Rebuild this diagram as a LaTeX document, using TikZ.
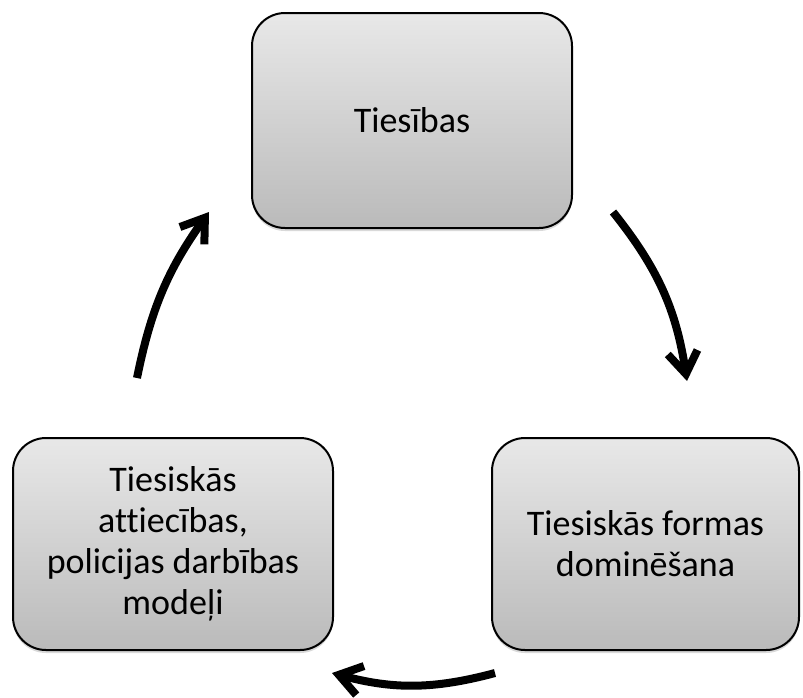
\documentclass[tikz,border=0pt]{standalone}
\usepackage{fontspec}
\setmainfont[Ligatures=NoCommon]{Carlito}
\usepackage{tikz}
\usetikzlibrary{arrows.meta,shapes,positioning,shadows}

\tikzset{
  stagebox/.style={draw=black, line width=1pt, rounded corners=16.5pt,
    top color=black!9, bottom color=black!27,
    drop shadow={shadow xshift=0pt, shadow yshift=-1.5pt, opacity=0.3},
    align=center, font=\fontsize{18}{20.5}\selectfont, inner sep=0pt},
  cyc/.style={line width=4pt, -{Straight Barb[length=11pt,width=15pt]}}
}

\begin{document}
\begin{tikzpicture}[x=0.5pt,y=-0.5pt]
                % page frame, size as the picture
                \useasboundingbox (0,0) rectangle (803,697);

                % the three boxes
                \node[stagebox, minimum width=160pt, minimum height=107.5pt] (tiesibas) at (412,120.5) {Tiesības};
                \node[stagebox, minimum width=153.5pt, minimum height=106pt] (domin) at (645.5,544) {Tiesiskās formas\\dominēšana};
                \node[stagebox, minimum width=160pt, minimum height=106pt] (attiec) at (173,544) {Tiesiskās\\attiecības,\\policijas darbības\\modeļi};

                % arrow ends
                \coordinate (a1s) at (613,212);
                \coordinate (a1e) at (687,381);
                \coordinate (a2s) at (495,673);
                \coordinate (a2e) at (332,673);
                \coordinate (a3s) at (137,378);
                \coordinate (a3e) at (209,212);

                % the cycle
                \draw[cyc] (a1s) to[bend left=15] (a1e);
                \draw[cyc] (a2s) to[bend left=15] (a2e);
                \draw[cyc] (a3s) to[bend left=12] (a3e);
            \end{tikzpicture}
\end{document}
